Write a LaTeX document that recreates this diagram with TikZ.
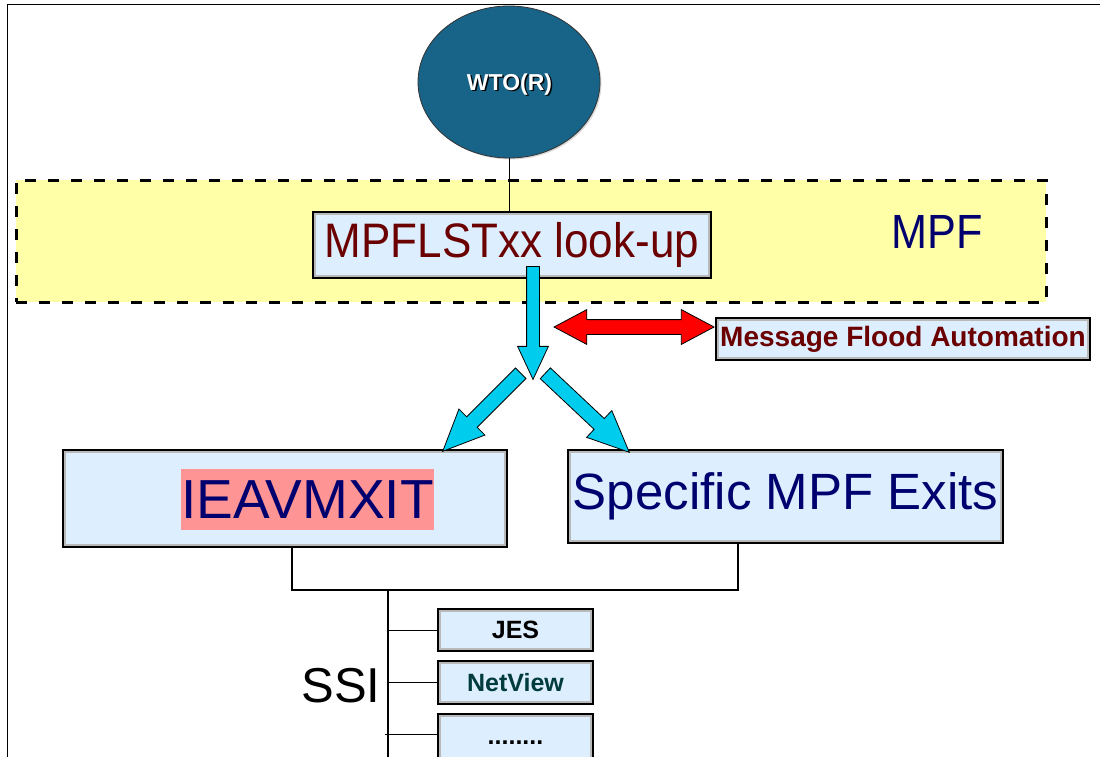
\documentclass[tikz,border=0pt]{standalone}
\usepackage{fontspec}
\setmainfont{Liberation Sans}
\usetikzlibrary{shapes.arrows,shapes.geometric,calc}
\definecolor{wtoblue}{RGB}{23,100,136}
\definecolor{mpfyellow}{RGB}{255,255,168}
\definecolor{boxblue}{RGB}{221,238,255}
\definecolor{boxgrey}{RGB}{185,185,185}
\definecolor{arrcyan}{RGB}{0,204,238}
\definecolor{dred}{RGB}{107,0,0}
\definecolor{navy}{RGB}{0,0,110}
\definecolor{nvteal}{RGB}{0,60,60}
\definecolor{hlpink}{RGB}{255,148,148}
\tikzset{
  box/.style={rectangle, fill=boxblue, draw=black, line width=1.8pt, inner sep=0pt,
    path picture={\draw[boxgrey, line width=6pt] (path picture bounding box.south west) rectangle (path picture bounding box.north east);}},
  cyanarrow/.style={single arrow, draw=black, line width=0.8pt, fill=arrcyan, inner xsep=0pt, inner ysep=6pt,
    single arrow head extend=9pt, single arrow tip angle=50},
  diagarrow/.style={cyanarrow, inner ysep=7pt, single arrow head extend=11pt, single arrow tip angle=48},
  redarrow/.style={double arrow, draw=black, line width=0.8pt, fill=red, inner xsep=0pt, inner ysep=7pt,
    double arrow head extend=10pt, double arrow tip angle=56},
  conn/.style={draw=black, line width=1.6pt},
  thinconn/.style={draw=black, line width=1pt},
}
\begin{document}
\begin{tikzpicture}[x=1pt,y=-1pt]
\useasboundingbox (0,0) rectangle (1100,757);
\clip (0,0) rectangle (1100,757);
% frame
\draw[line width=1pt] (7,757) -- (7,5) -- (1100,5);
% MPF region
\node[rectangle, fill=mpfyellow, draw=black, line width=3pt, dash pattern=on 11pt off 12pt,
  minimum width=1030pt, minimum height=122pt, inner sep=0pt] (mpf) at (531,241) {};
\node[text=navy, font=\fontsize{48}{52}\selectfont, xscale=0.9] (mpflabel) at (937,232) {MPF};
% WTO(R)
\fill[gray!30] (510.5,83.5) ellipse [x radius=91, y radius=76];
\node[ellipse, fill=wtoblue, draw=black!80, line width=0.8pt, minimum width=182pt, minimum height=152pt, inner sep=0pt] (wto) at (509,82) {};
\node[text=black, font=\bfseries\fontsize{23}{26}\selectfont] at (511,86) {WTO(R)};
\node[text=white, font=\bfseries\fontsize{23}{26}\selectfont] (wtotext) at (509.5,84.5) {WTO(R)};
% MPFLST box
\node[box, minimum width=398pt, minimum height=66pt, text=dred, font=\fontsize{44}{50}\selectfont] (mpflst) at (512,245) {\raisebox{-3pt}{\scalebox{1.0}[1.1]{MPFLSTxx look-up}}};
\draw[thinconn] (wto.south) -- (wto.south |- mpflst.north);
% Message flood automation
\node[box, minimum width=374pt, minimum height=42pt, text=dred, font=\bfseries\fontsize{28}{30}\selectfont] (mfa) at (903,339) {Message Flood Automation};
% Lower boxes
\node[box, minimum width=444pt, minimum height=97pt] (ieav) at (285,498.5) {};
\node[fill=hlpink, text=navy, minimum width=252pt, minimum height=61pt, inner sep=0pt, font=\fontsize{55}{60}\selectfont] (ieavtext) at (307.5,499.5) {IEAVMXIT};
\node[box, minimum width=435pt, minimum height=93pt, text=navy, font=\fontsize{51}{56}\selectfont] (spec) at (785.5,496.5) {Specific MPF Exits};
% SSI boxes
\node[box, minimum width=155pt, minimum height=42pt, text=black, font=\bfseries\fontsize{25}{28}\selectfont] (jes) at (515.5,630) {JES};
\node[box, minimum width=155pt, minimum height=43pt, text=nvteal, font=\bfseries\fontsize{25}{28}\selectfont] (nv) at (515.5,682.5) {NetView};
\node[box, minimum width=155pt, minimum height=58pt, text=black, font=\bfseries\fontsize{25}{28}\selectfont] (dots) at (515.5,743) {........};
\node[text=black, font=\fontsize{49}{54}\selectfont] (ssi) at (341,686) {SSI};
% arrows
\coordinate (vt) at (533,266);
\coordinate (vh) at (533,379);
\coordinate (lt) at (521,373);
\coordinate (lh) at (443,451);
\coordinate (rt) at (545,373);
\coordinate (rh) at (629,452);
\path let \p1=($(vh)-(vt)$), \n1={veclen(\x1,\y1)}, \n2={atan2(\y1,\x1)} in
  (vt) node[cyanarrow, anchor=tail, rotate=\n2, minimum height=\n1] (down) {};
\path let \p1=($(lh)-(lt)$), \n1={veclen(\x1,\y1)}, \n2={atan2(\y1,\x1)} in
  (lt) node[diagarrow, anchor=tail, rotate=\n2, minimum height=\n1] (toieav) {};
\path let \p1=($(rh)-(rt)$), \n1={veclen(\x1,\y1)}, \n2={atan2(\y1,\x1)} in
  (rt) node[diagarrow, anchor=tail, rotate=\n2, minimum height=\n1] (tospec) {};
\coordinate (rl) at (553,327);
\coordinate (rr) at (mfa.west |- rl);
\node[redarrow, minimum height=160pt] (flood) at ($(rl)!0.5!(rr)$) {};
% bottom connectors
\coordinate (junc) at (388,590);
\coordinate (ssiend) at (388,770);
\draw[conn] (ieav.south -| 292,0) -- (292,590) -- (738,590) -- (spec.south -| 738,0);
\draw[conn] (junc) -- (ssiend);
\draw[thinconn] (jes.west -| junc) -- (jes.west);
\draw[thinconn] (nv.west -| junc) -- (nv.west);
\coordinate (dotsb) at (385,734);
\draw[thinconn] (dotsb) -- (dotsb -| dots.west);
\end{tikzpicture}
\end{document}
